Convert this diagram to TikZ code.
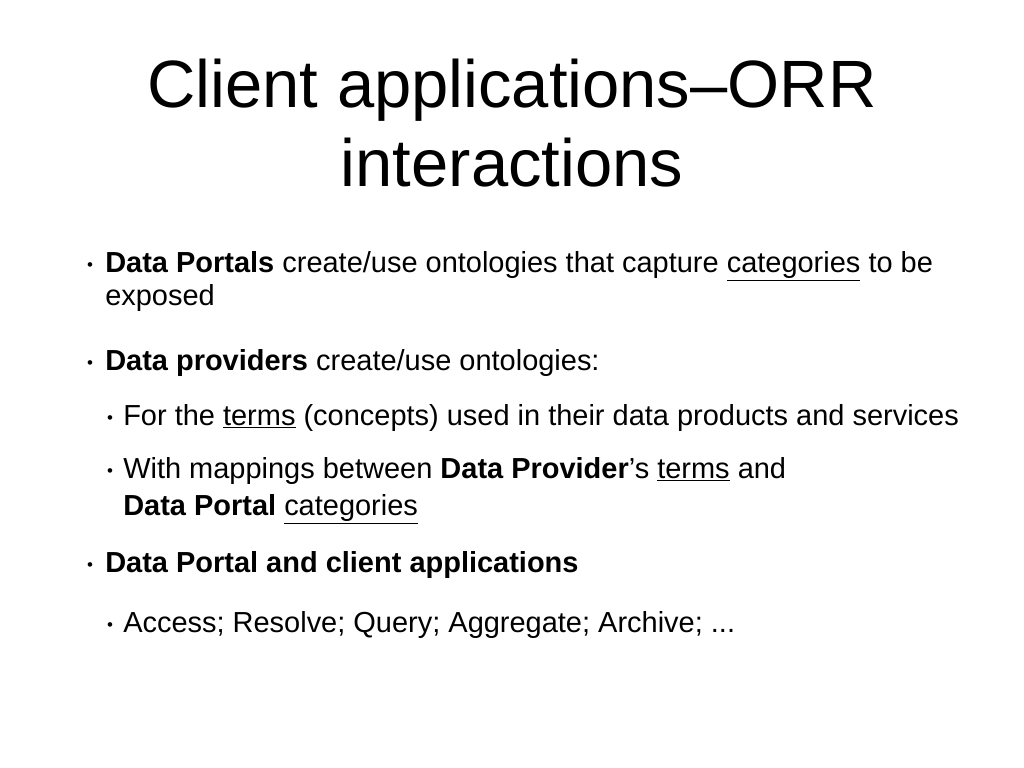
\documentclass[tikz,border=0pt]{standalone}
\usepackage{fontspec}
\setmainfont{Liberation Sans}
\usetikzlibrary{positioning}

\tikzset{
  title/.style={font=\fontsize{47.6}{57}\selectfont,anchor=base},
  item/.style={font=\fontsize{20.6}{25}\selectfont,anchor=base west,inner sep=0pt},
  dot/.style={font=\fontsize{12}{14}\selectfont,anchor=base,inner sep=0pt},
}

\begin{document}
\begin{tikzpicture}[x=0.025cm,y=-0.025cm]
    \useasboundingbox (0,0) rectangle (1024,768);

    % Title
    \node[title] (t1) at (512,108) {Client applications–ORR};
    \node[title] (t2) at (512,187) {interactions};

    % First level
    \node[dot] (d1) at (90,270) {•};
    \node[item] (portals) at (105,272) {\textbf{Data Portals} create/use ontologies that capture \underline{categories} to be};
    \node[item] (exposed) at (105,305) {exposed};
    \node[dot] (d2) at (90,368) {•};
    \node[item] (providers) at (105,370) {\textbf{Data providers} create/use ontologies:};

    % Second level
    \node[dot] (d3) at (110,423) {•};
    \node[item] (terms) at (123,425) {For the \underline{terms} (concepts) used in their data products and services};
    \node[dot] (d4) at (110,476) {•};
    \node[item] (mappings) at (123,478) {With mappings between \textbf{Data Provider}’s \underline{terms} and};
    \node[item] (cats) at (123,515) {\textbf{Data Portal} \underline{categories}};

    % Third block
    \node[dot] (d5) at (90,570) {•};
    \node[item] (clients) at (105,572) {\textbf{Data Portal and client applications}};
    \node[dot] (d6) at (110,630) {•};
    \node[item] (access) at (123,632) {Access; Resolve; Query; Aggregate; Archive;  ...};
\end{tikzpicture}
\end{document}
